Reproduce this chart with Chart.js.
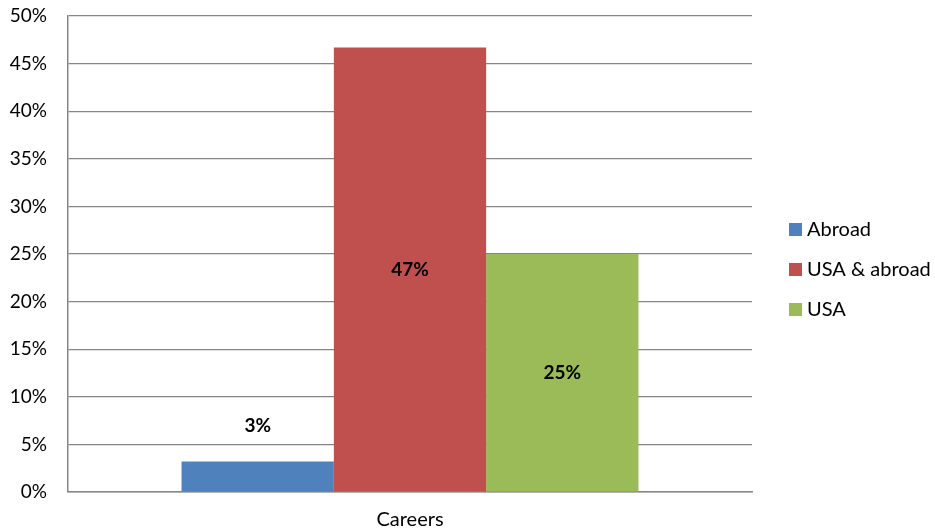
<!DOCTYPE html>
<html>
<head>
  <meta charset="UTF-8" />
  <title>Careers</title>
  <script src="https://cdn.jsdelivr.net/npm/chart.js"></script>
  <style>
    body {
      margin: 0;
      background-color: #ffffff;
    }
  </style>
</head>
<body>
  <canvas id="grafico" width="935" height="531"></canvas>

  <script>
    const categorias = ['Careers'];
    const series = ['Abroad', 'USA & abroad', 'USA'];
    const valores = [3.2, 46.7, 25];
    const cores = ['#4F81BD', '#C0504D', '#9BBB59'];
    const ticksY = [0, 5, 10, 15, 20, 25, 30, 35, 40, 45, 50];

    const fonte = 'Lato, "Open Sans", sans-serif';

    // rotulos de valor em cima das barras
    const rotulos = {
      id: 'rotulos',
      afterDatasetsDraw(chart) {
        const ctx = chart.ctx;
        ctx.save();
        ctx.font = 'bold 19px ' + fonte;
        ctx.fillStyle = '#000';
        ctx.textAlign = 'center';
        ctx.textBaseline = 'middle';
        chart.data.datasets.forEach((ds, i) => {
          const barra = chart.getDatasetMeta(i).data[0];
          const v = ds.data[0];
          let y = (barra.y + barra.base) / 2;
          if (v < 10) y = barra.y - 36;
          ctx.fillText(Math.round(v) + '%', barra.x, y);
        });
        ctx.restore();
      }
    };

    // legenda desenhada a direita
    const legenda = {
      id: 'legenda',
      afterDraw(chart) {
        const ctx = chart.ctx;
        const area = chart.chartArea;
        ctx.save();
        ctx.font = '20px ' + fonte;
        ctx.textBaseline = 'middle';
        const x = area.right + 37;
        const y0 = 229;
        chart.data.datasets.forEach((ds, i) => {
          const y = y0 + i * 40;
          ctx.fillStyle = ds.backgroundColor;
          ctx.fillRect(x, y - 6, 13, 13);
          ctx.fillStyle = '#000';
          ctx.fillText(ds.label, x + 18, y + 1);
        });
        ctx.restore();
      }
    };

    const ctx = document.getElementById('grafico').getContext('2d');
    new Chart(ctx, {
      type: 'bar',
      data: {
        labels: categorias,
        datasets: series.map((nome, i) => ({
          label: nome,
          data: [valores[i]],
          backgroundColor: cores[i],
          categoryPercentage: 0.668,
          barPercentage: 1
        }))
      },
      options: {
        responsive: false,
        animation: false,
        layout: { padding: { top: 16, right: 183, bottom: 0, left: 0 } },
        plugins: {
          legend: { display: false },
          tooltip: { enabled: false }
        },
        scales: {
          x: {
            grid: { display: false, drawTicks: false },
            border: { color: '#868686', width: 1.5 },
            ticks: { color: '#000', font: { size: 20, family: fonte }, padding: 16 },
            afterFit(axis) {
              axis.height = 39;
              axis.paddingLeft = 0;
              axis.paddingRight = 0;
            }
          },
          y: {
            min: 0,
            max: 50,
            afterBuildTicks(axis) {
              axis.ticks = ticksY.map(v => ({ value: v }));
            },
            afterFit(axis) {
              axis.width = 68;
              axis.paddingTop = 0;
              axis.paddingBottom = 0;
            },
            grid: { color: '#868686', lineWidth: 1.2, drawTicks: false },
            border: { color: '#868686', width: 1.5 },
            ticks: {
              color: '#000',
              font: { size: 19, family: fonte },
              padding: 21,
              callback: v => v + '%'
            }
          }
        }
      },
      plugins: [rotulos, legenda]
    });
  </script>
</body>
</html>
